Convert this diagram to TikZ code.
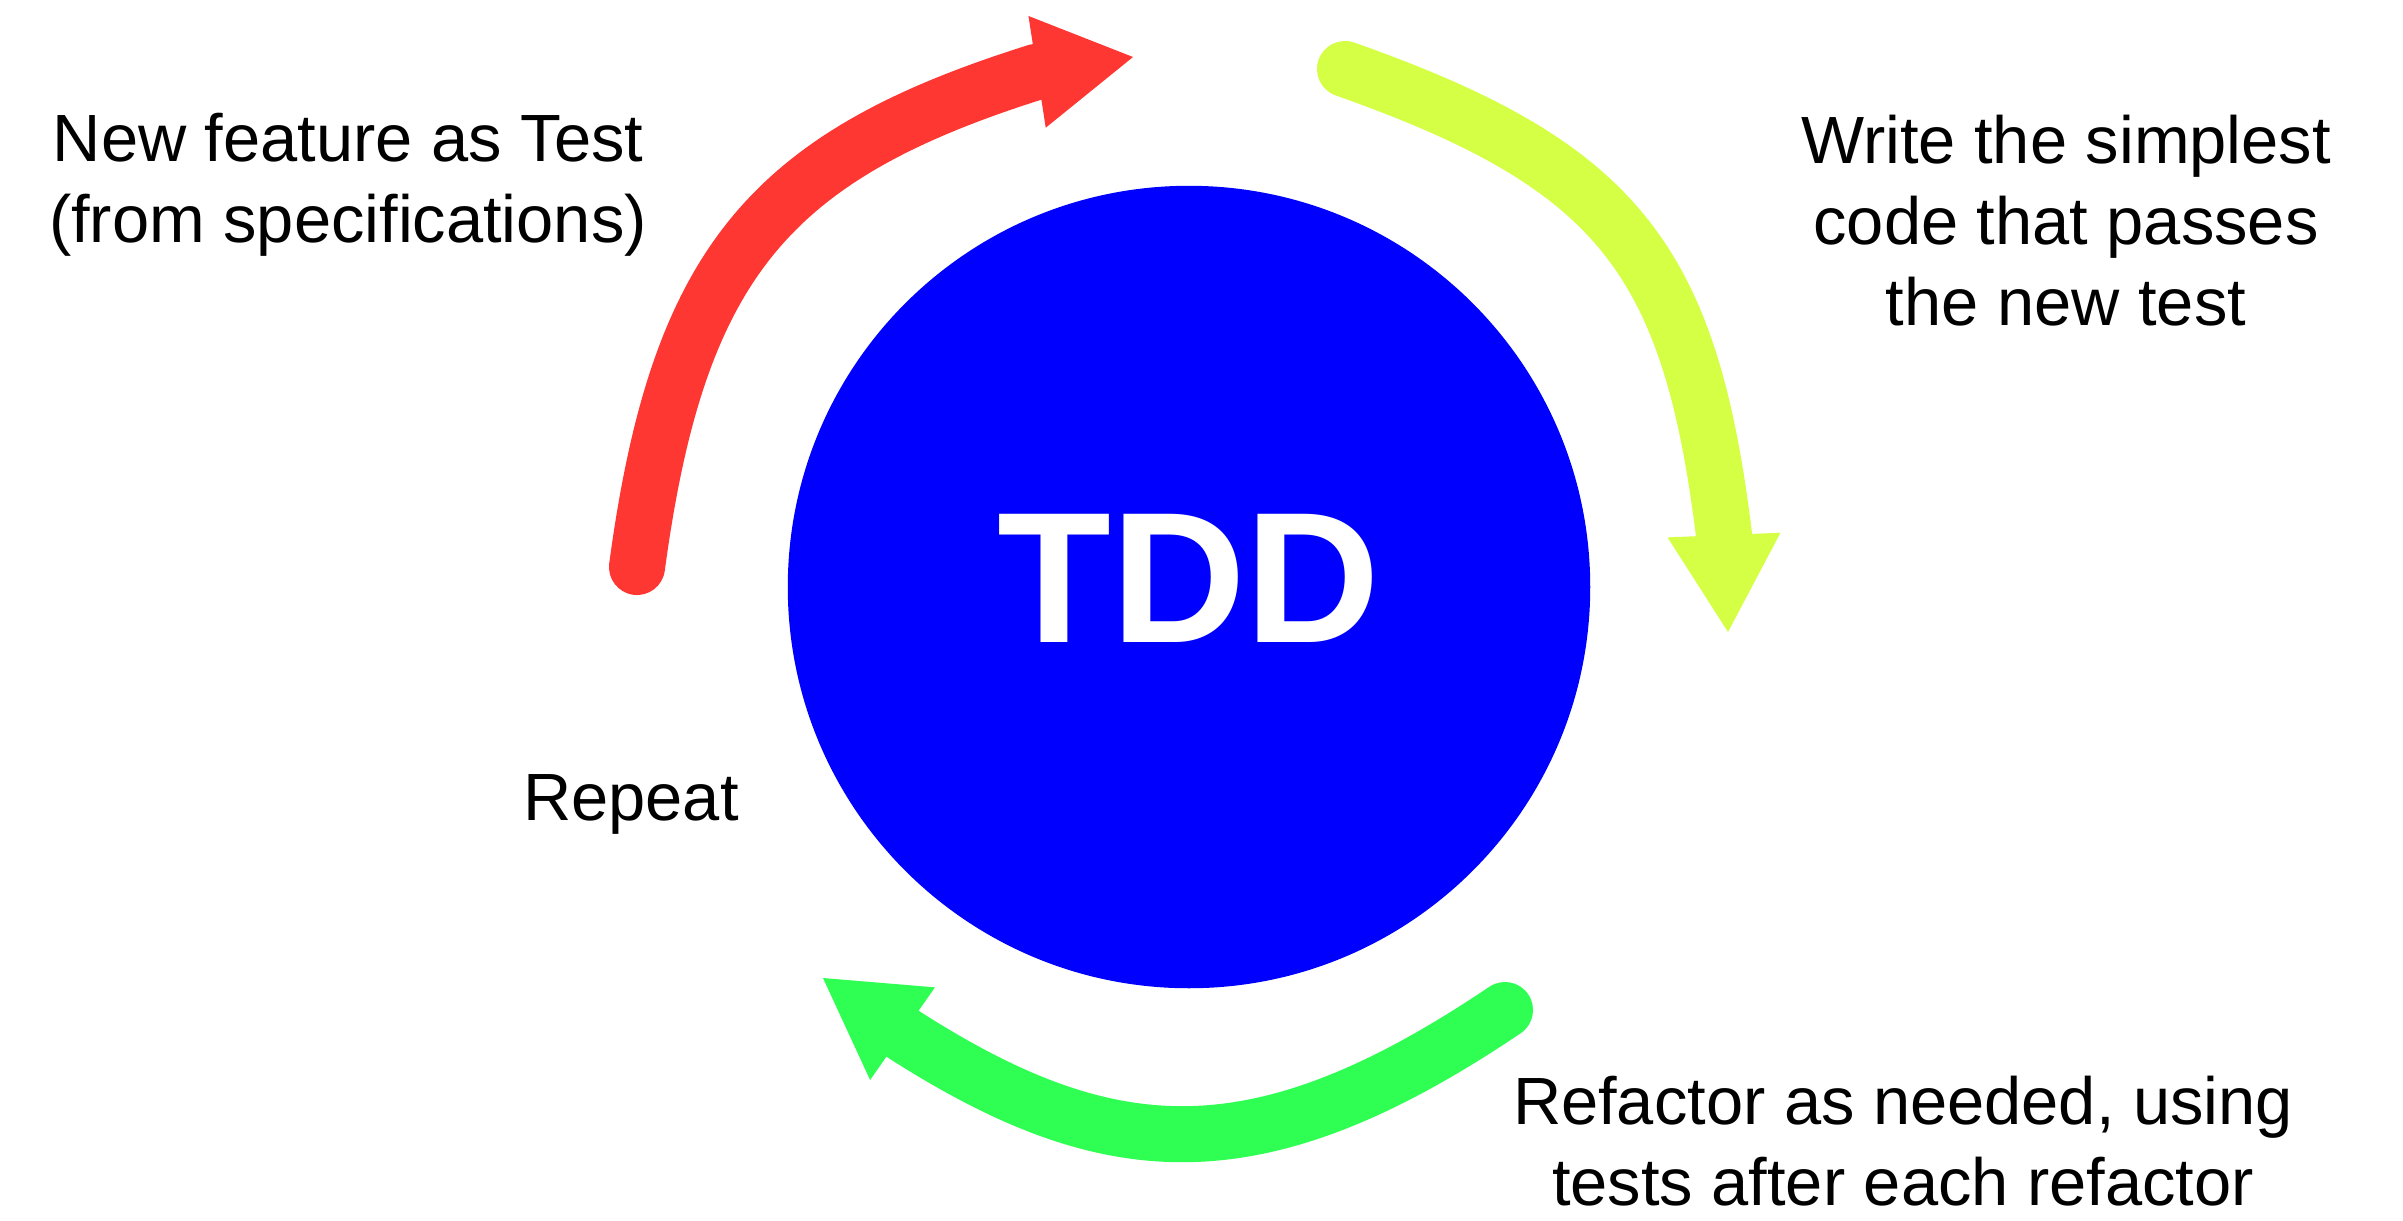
\documentclass[tikz,border=0pt]{standalone}
\usepackage{fontspec}
\setmainfont{Liberation Sans}
\usetikzlibrary{arrows.meta}
\definecolor{tddblue}{RGB}{0,0,255}
\definecolor{testred}{RGB}{255,55,51}
\definecolor{codeyellow}{RGB}{212,255,69}
\definecolor{refactorgreen}{RGB}{46,255,82}
\begin{document}
\begin{tikzpicture}[x=0.01cm,y=-0.01cm,
  cyclearrow/.style={line width=0.56cm, line cap=round,
    -{Triangle[length=0.97cm,width=1.13cm,line width=0pt]}},
  % multi-line captions are anchored at the baseline of their last line
  caption/.style={font=\fontsize{19}{23}\selectfont, align=center,
    anchor=base, inner sep=0pt}]
\useasboundingbox (0,0) rectangle (2403,1220);

% central disc
\node[circle, fill=tddblue, minimum size=8.02cm, inner sep=0pt] (tdd) at (1189,587) {};
\node[font=\fontsize{53}{60}\selectfont\bfseries, text=white, anchor=base,
  inner sep=0pt] (tddlabel) at (1189,642) {TDD};

% red: write a failing test
\coordinate (redstart) at (637,567);
\coordinate (redbase) at (1036,72);
\coordinate (redtip) at (1133,57);
\draw[cyclearrow, draw=testred]
  (redstart) .. controls (678,263) and (769,156) .. (redbase) -- (redtip);

% yellow: make it pass
\coordinate (yellowstart) at (1345,69);
\coordinate (yellowbase) at (1724,535);
\coordinate (yellowtip) at (1728,632);
\draw[cyclearrow, draw=codeyellow]
  (yellowstart) .. controls (1617,165) and (1690,258) .. (yellowbase) -- (yellowtip);

% green: refactor
\coordinate (greenstart) at (1505,1010);
\coordinate (greenbase) at (903,1034);
\coordinate (greentip) at (823,978);
\draw[cyclearrow, draw=refactorgreen]
  (greenstart) .. controls (1257,1177) and (1109,1166) .. (greenbase) -- (greentip);

% step captions
\node[caption] (newtest) at (348,242) {New feature as Test\\(from specifications)};
\node[caption] (simplest) at (2066,325) {Write the simplest\\code that passes\\the new test};
\node[caption] (refactor) at (1903,1205) {Refactor as needed, using\\tests after each refactor};
\node[caption] (repeat) at (631,820) {Repeat};
\end{tikzpicture}
\end{document}
